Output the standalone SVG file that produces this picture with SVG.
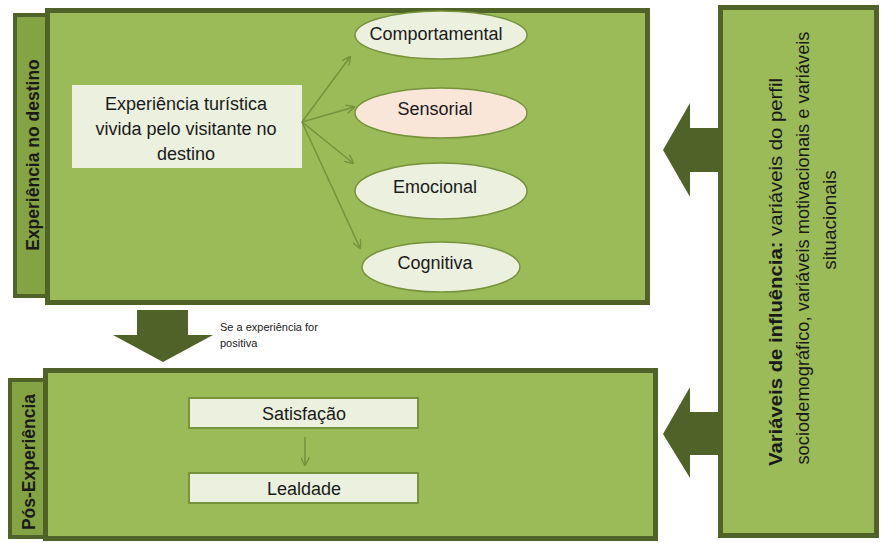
<svg xmlns="http://www.w3.org/2000/svg" width="881" height="543" viewBox="0 0 881 543">
<style>
.panel{fill:#9bbb59;stroke:#4f6228;stroke-width:5}
.side{fill:#84a343;stroke:#4f6228;stroke-width:4}
.big{fill:#4f6228}
.t{font-family:"Liberation Sans",Arial,sans-serif;fill:#1a1a1a}
.b{font-weight:bold}
.ell{fill:#ebf1de;stroke:#77933c;stroke-width:1.5}
.box{fill:#ebf1de;stroke:#77933c;stroke-width:2}
.con{stroke:#77933c;stroke-width:1.6;fill:none}
</style>
<defs>
<marker id="ah" viewBox="0 0 10 10" refX="9" refY="5" markerWidth="9" markerHeight="9" markerUnits="userSpaceOnUse" orient="auto">
<path d="M0,0 L10,5 L0,10" fill="none" stroke="#77933c" stroke-width="1.6"/>
</marker>
</defs>

<g id="top-panel">
<rect class="side" x="15" y="15" width="36" height="281"/>
<rect class="panel" x="47.5" y="10.5" width="600" height="292"/>
<text class="t b" font-size="17.5" text-anchor="middle" transform="translate(39,155) rotate(-90)">Experiência no destino</text>
</g>

<g id="central">
<rect x="72" y="85" width="230" height="83" fill="#ebf1de"/>
<text class="t" font-size="18" text-anchor="middle"><tspan x="186" y="110">Experiência turística</tspan><tspan x="186" y="135">vivida pelo visitante no</tspan><tspan x="186" y="160">destino</tspan></text>
</g>

<g id="comportamental">
<ellipse class="ell" cx="441" cy="35" rx="86" ry="24"/>
<text class="t" font-size="18" text-anchor="middle" x="436" y="40">Comportamental</text>
</g>
<g id="sensorial">
<ellipse class="ell" cx="441" cy="113" rx="86" ry="25" style="fill:#f9e6d9"/>
<text class="t" font-size="18" text-anchor="middle" x="435" y="115">Sensorial</text>
</g>
<g id="emocional">
<ellipse class="ell" cx="441" cy="191" rx="86" ry="28"/>
<text class="t" font-size="18" text-anchor="middle" x="435" y="193">Emocional</text>
</g>
<g id="cognitiva">
<ellipse class="ell" cx="441" cy="267" rx="79" ry="25"/>
<text class="t" font-size="18" text-anchor="middle" x="435" y="269">Cognitiva</text>
</g>

<g id="bottom-panel">
<rect class="side" x="10" y="380" width="35" height="157"/>
<rect class="panel" x="45.5" y="370.5" width="610" height="168"/>
<text class="t b" font-size="17.5" text-anchor="middle" transform="translate(35,462) rotate(-90)">Pós-Experiência</text>
</g>

<g id="satisfacao">
<rect class="box" x="189" y="398" width="229" height="30"/>
<text class="t" font-size="18" text-anchor="middle" x="304" y="420">Satisfação</text>
</g>
<g id="lealdade">
<rect class="box" x="189" y="473" width="229" height="30"/>
<text class="t" font-size="18" text-anchor="middle" x="304" y="495">Lealdade</text>
</g>

<g id="influencia">
<rect class="panel" x="720.5" y="7.5" width="156" height="528"/>
<text class="t" font-size="19" text-anchor="middle" transform="translate(782,272) rotate(-90)" textLength="388" lengthAdjust="spacingAndGlyphs"><tspan class="b">Variáveis de influência:</tspan> variáveis do perfil</text>
<text class="t" font-size="19" text-anchor="middle" transform="translate(809,248) rotate(-90)" textLength="433" lengthAdjust="spacingAndGlyphs">sociodemográfico, variáveis motivacionais e variáveis</text>
<text class="t" font-size="19" text-anchor="middle" transform="translate(836,220) rotate(-90)">situacionais</text>
</g>

<g id="big-arrows">
<polygon class="big" points="663,150 690,103 690,128 718,128 718,172 690,172 690,197"/>
<polygon class="big" points="663,434 690,387 690,412 718,412 718,455 690,455 690,478"/>
<polygon class="big" points="137,310 188,310 188,335 213,335 163,362 113,335 137,335"/>
<text class="t" font-size="11" x="220" y="331">Se a experiência for</text>
<text class="t" font-size="11" x="220" y="347">positiva</text>
</g>

<g id="connectors">
<line class="con" x1="302" y1="122" x2="350" y2="57" marker-end="url(#ah)"/>
<line class="con" x1="302" y1="122" x2="354" y2="107" marker-end="url(#ah)"/>
<line class="con" x1="302" y1="122" x2="353" y2="163" marker-end="url(#ah)"/>
<line class="con" x1="302" y1="122" x2="360" y2="248" marker-end="url(#ah)"/>
<line class="con" x1="305" y1="437" x2="305" y2="465" marker-end="url(#ah)"/>
</g>
</svg>
